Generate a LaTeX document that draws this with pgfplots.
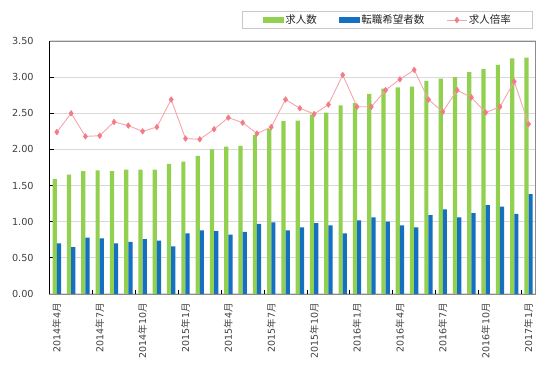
\documentclass[border=0pt]{standalone}
\usepackage{fontspec}
\setmainfont{DejaVu Sans}
\newfontfamily\cjk{Noto Sans CJK JP}
\usepackage{pgfplots}
\usepackage{pgfplotstable}
\pgfplotsset{compat=1.18}
\definecolor{kgreen}{HTML}{92D050}
\definecolor{kblue}{HTML}{1570C2}
\definecolor{kpink}{HTML}{F47A86}
\definecolor{kpinkl}{HTML}{F8A4AB}
\definecolor{kgrid}{HTML}{D9D9D9}
\definecolor{kaxis}{HTML}{8C8C8C}
\definecolor{ktext}{HTML}{404040}
\definecolor{klegend}{HTML}{C8C8C8}

\pgfplotstableread{
x g b r
0 1.59 0.70 2.24
1 1.65 0.65 2.50
2 1.70 0.78 2.18
3 1.71 0.77 2.19
4 1.70 0.70 2.38
5 1.72 0.72 2.33
6 1.72 0.76 2.25
7 1.72 0.74 2.31
8 1.80 0.66 2.69
9 1.83 0.84 2.15
10 1.91 0.88 2.14
11 2.00 0.87 2.28
12 2.04 0.82 2.44
13 2.05 0.86 2.37
14 2.20 0.97 2.22
15 2.28 0.99 2.31
16 2.39 0.88 2.69
17 2.40 0.92 2.57
18 2.48 0.98 2.49
19 2.51 0.95 2.62
20 2.61 0.84 3.03
21 2.64 1.02 2.59
22 2.77 1.06 2.59
23 2.84 1.00 2.82
24 2.86 0.95 2.97
25 2.87 0.92 3.10
26 2.95 1.09 2.69
27 2.98 1.17 2.52
28 3.00 1.06 2.82
29 3.07 1.12 2.72
30 3.11 1.23 2.51
31 3.17 1.21 2.59
32 3.26 1.11 2.94
33 3.27 1.38 2.35
}\datatable

\begin{document}
\begin{tikzpicture}
\begin{axis}[
  scale only axis, width=486pt, height=253pt,
  xmin=-0.5, xmax=33.5, ymin=0, ymax=3.5,
  ytick={0,0.5,1,1.5,2,2.5,3,3.5},
  /pgf/number format/.cd, fixed, fixed zerofill, precision=2, assume math mode=true,
  /pgfplots/.cd,
  ymajorgrids, grid style={kgrid, line width=1pt},
  axis line style={kaxis, line width=0.9pt},
  tick align=inside, ytick pos=left, xtick pos=bottom,
  major tick length=4pt,
  ytick style={black, line width=0.9pt},
  xtick style={draw=none},
  yticklabel style={font=\fontsize{9.7}{11}\selectfont, text=ktext, xshift=-12.5pt},
  xtick={0,3,...,33},
  xticklabels={2014{\cjk 年}4{\cjk 月},2014{\cjk 年}7{\cjk 月},2014{\cjk 年}10{\cjk 月},2015{\cjk 年}1{\cjk 月},2015{\cjk 年}4{\cjk 月},2015{\cjk 年}7{\cjk 月},2015{\cjk 年}10{\cjk 月},2016{\cjk 年}1{\cjk 月},2016{\cjk 年}4{\cjk 月},2016{\cjk 年}7{\cjk 月},2016{\cjk 年}10{\cjk 月},2017{\cjk 年}1{\cjk 月}},
  xticklabel style={rotate=90, anchor=east, font=\fontsize{9.5}{11}\selectfont, text=ktext},
  xticklabel shift=5.5pt,
  extra x ticks={2.5,5.5,8.5,11.5,14.5,17.5,20.5,23.5,26.5,29.5,32.5},
  extra x tick labels={},
  extra x tick style={grid=none, xtick style={draw=black, line width=0.9pt}},
  legend style={at={(0.994,1.047)}, anchor=south east, draw=klegend, line width=0.8pt, fill=white,
    font=\cjk\fontsize{10.5}{12}\selectfont, text=black!85,
    inner xsep=20.5pt, inner ysep=1.5pt,
    nodes={inner xsep=1pt, inner ysep=2pt},
    /tikz/every odd column/.append style={column sep=0.5pt},
    /tikz/every even column/.append style={column sep=21pt}},
  legend columns=3, legend cell align=left,
  extra description/.code={\draw[black, line width=1pt] (rel axis cs:0,0) -- (rel axis cs:0,1);},
]
\addplot[ybar, bar width=4.2pt, bar shift=-2.1pt, fill=kgreen, draw=none,
  legend image code/.code={\fill[kgreen] (0pt,-3.2pt) rectangle (21pt,3.2pt);}]
  table[x=x, y=g]{\datatable};
\addlegendentry{求人数}
\addplot[ybar, bar width=4.2pt, bar shift=2.1pt, fill=kblue, draw=none,
  legend image code/.code={\fill[kblue] (0pt,-3.2pt) rectangle (21pt,3.2pt);}]
  table[x=x, y=b]{\datatable};
\addlegendentry{転職希望者数}
\addplot[sharp plot, color=kpinkl, line width=0.9pt, mark=diamond*, mark size=2.8pt,
  mark options={fill=kpink, draw=kpink, line width=0.5pt},
  legend image code/.code={\draw[kpinkl, line width=0.9pt, mark=diamond*, mark size=2.8pt, mark options={fill=kpink, draw=kpink, line width=0.5pt}, mark repeat=2, mark phase=2] plot coordinates {(0pt,0pt) (10pt,0pt) (20pt,0pt)};}]
  table[x=x, y=r]{\datatable};
\addlegendentry{求人倍率}
\end{axis}
\pgfresetboundingbox
\path[use as bounding box] (-49.7pt,-75pt) rectangle (492.3pt,294pt);
\end{tikzpicture}
\end{document}
